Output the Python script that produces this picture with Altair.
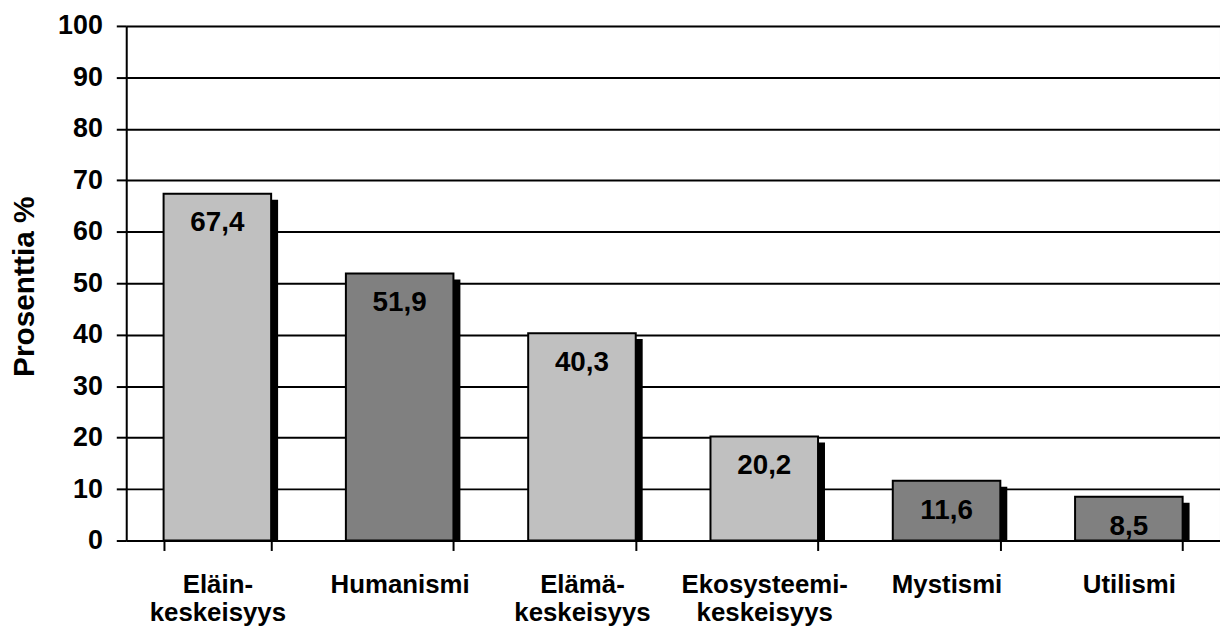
import altair as alt
import pandas as pd

categories = ["Eläin-\nkeskeisyys", "Humanismi", "Elämä-\nkeskeisyys",
              "Ekosysteemi-\nkeskeisyys", "Mystismi", "Utilismi"]
values = [67.4, 51.9, 40.3, 20.2, 11.6, 8.5]
value_labels = ["67,4", "51,9", "40,3", "20,2", "11,6", "8,5"]
shades = ["light", "dark", "light", "light", "dark", "dark"]
y_ticks = list(range(0, 101, 10))

df = pd.DataFrame({"cat": categories, "value": values,
                   "label": value_labels, "shade": shades, "zero": 0})

FONT = "Liberation Sans"

x = alt.X(
    "cat:N", sort=categories,
    scale=alt.Scale(paddingInner=0.41, paddingOuter=0.205),
    axis=alt.Axis(
        title=None,
        labelExpr="isValid(datum.value) ? split(datum.value, '\\n') : ''",
        labelAngle=0,
        tickBand="extent", tickColor="black", tickWidth=2, tickSize=10,
        domainColor="black", domainWidth=2,
        labelFont=FONT, labelFontSize=26, labelFontWeight="bold",
        labelColor="black", labelPadding=21, labelLineHeight=29,
    ),
)
y = alt.Y(
    "value:Q",
    scale=alt.Scale(domain=[0, 100], nice=False),
    axis=alt.Axis(
        values=y_ticks, grid=True, gridColor="black", gridWidth=2,
        domainColor="black", domainWidth=2, tickColor="black", tickWidth=2,
        tickSize=10, labelFont=FONT, labelFontSize=27, labelFontWeight="bold",
        labelColor="black", labelPadding=14,
        title="Prosenttia %", titleFont=FONT, titleFontSize=30,
        titleFontWeight="bold", titleColor="black",
        titleX=-102, titleY=262, titleAngle=270, titleBaseline="middle",
        titleAlign="center",
    ),
)

base = alt.Chart(df)

shadow = base.mark_bar(color="black", xOffset=7, yOffset=6, y2Offset=0).encode(
    x=x, y=y, y2=alt.Y2("zero:Q"))

bars = base.mark_bar(stroke="black", strokeWidth=2).encode(
    x=x, y=y,
    color=alt.Color("shade:N", scale=alt.Scale(domain=["light", "dark"],
                                               range=["#C0C0C0", "#808080"]),
                    legend=None),
)

text = base.mark_text(dy=30, fontSize=28, fontWeight="bold", font=FONT,
                      baseline="middle", color="black").encode(
    x=x, y=y, text="label:N")

chart = alt.layer(shadow, bars, text).properties(
    width=1101, height=518, autosize="none",
    padding={"left": 119, "top": 16, "right": 0, "bottom": 86},
).configure_view(stroke="#808080", strokeWidth=1)

chart.save("out.html", embed_options={"renderer": "svg", "actions": False})
